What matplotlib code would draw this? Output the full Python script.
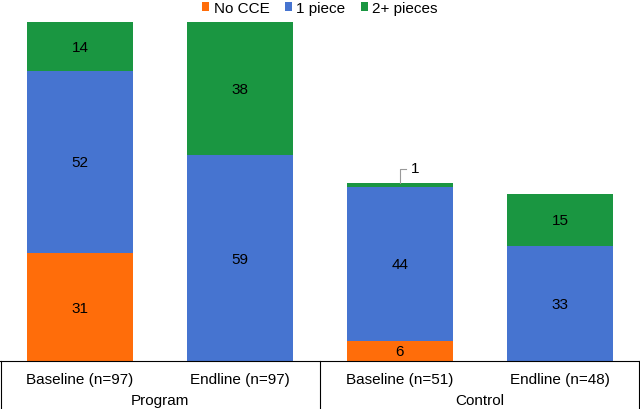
import matplotlib.pyplot as plt
import numpy as np
from matplotlib.lines import Line2D

plt.rcParams['font.family'] = ['Liberation Sans', 'DejaVu Sans']

# data
bar_labels = ["Baseline (n=97)", "Endline (n=97)", "Baseline (n=51)", "Endline (n=48)"]
group_labels = ["Program", "Control"]
series_names = ["No CCE", "1 piece", "2+ pieces"]
no_cce = [31, 0, 6, 0]
one_piece = [52, 59, 44, 33]
two_plus = [14, 38, 1, 15]

colors = ["#FF6D0A", "#4674D0", "#1A9641"]

fig = plt.figure(figsize=(6.4, 4.1), dpi=100)
ax = fig.add_axes([0, 47 / 410, 1, (362 - 22) / 410])

x = np.arange(len(bar_labels))
bottom = np.zeros(len(bar_labels))
for name, vals, col in zip(series_names, [no_cce, one_piece, two_plus], colors):
    vals = np.array(vals, dtype=float)
    ax.bar(x, vals, width=0.66, bottom=bottom, color=col, label=name)
    for xi, b, v in zip(x, bottom, vals):
        if v >= 3:
            ax.text(xi, b + v / 2, f"{int(v)}", ha="center", va="center", fontsize=11)
        elif v > 0:
            top = b + v
            ax.plot([xi, xi, xi + 0.04], [top, top + 4, top + 4], color="#999999", lw=0.8)
            ax.text(xi + 0.07, top + 4.3, f"{int(v)}", ha="left", va="center", fontsize=11)
    bottom += vals

ax.set_xlim(-0.5, 3.5)
ax.set_ylim(0, 97)
ax.axis("off")

# category axis lines
fy = 48 / 410
fig.add_artist(Line2D([0, 1], [fy, fy], color="black", lw=0.8))
for fx in [0.0015, 0.5, 0.9985]:
    fig.add_artist(Line2D([fx, fx], [0, fy], color="black", lw=0.8))

for xi, lab in zip(x, bar_labels):
    fig.text((xi + 0.5) / 4, (410 - 380) / 410, lab, ha="center", va="center", fontsize=11)
for gi, g in enumerate(group_labels):
    fig.text(0.25 + gi * 0.5, (410 - 401) / 410, g, ha="center", va="center", fontsize=11)

leg = fig.legend(loc="center", bbox_to_anchor=(0.5, (410 - 9) / 410), ncol=3, frameon=False,
                 fontsize=11, handlelength=0.45, handleheight=0.45, handletextpad=0.3,
                 columnspacing=1.0, borderaxespad=0)

fig.savefig("out.png", dpi=100)
